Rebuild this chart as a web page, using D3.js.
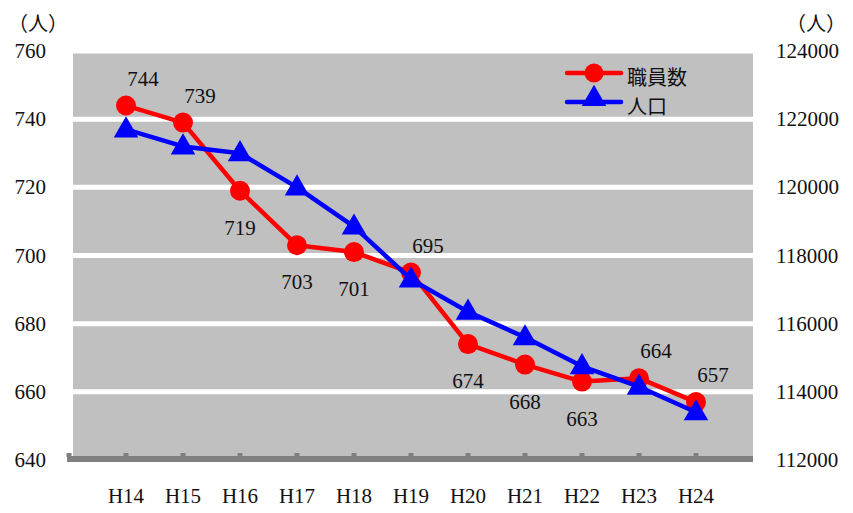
<!DOCTYPE html>
<html>
<head>
<meta charset="utf-8">
<script src="https://cdn.jsdelivr.net/npm/d3@7"></script>
<style>
  html, body { margin: 0; padding: 0; background: #fff; }
  svg { display: block; }
  .num { font-family: "Liberation Serif", "DejaVu Serif", serif; font-size: 21px; fill: #111; }
  .jp { font-family: "Noto Sans CJK JP", sans-serif; font-size: 20px; fill: #111; }
</style>
</head>
<body>
<svg id="chart" width="853" height="513"></svg>
<script>
// 年度
const years = ["H14", "H15", "H16", "H17", "H18", "H19", "H20", "H21", "H22", "H23", "H24"];
// 職員数（人）
const staff = [744, 739, 719, 703, 701, 695, 674, 668, 663, 664, 657];
// 人口（人）
const population = [121700, 121200, 121000, 120000, 118850, 117300, 116350, 115600, 114750, 114150, 113400];
// ラベル位置（上 / 下）
const labelPos = ["up", "up", "down", "down", "down", "up", "down", "down", "down", "up", "up"];
// 軸目盛
const leftTicks = [640, 660, 680, 700, 720, 740, 760];
const rightTicks = [112000, 114000, 116000, 118000, 120000, 122000, 124000];
const seriesNames = ["職員数", "人口"];

const svg = d3.select("#chart");
const plot = { left: 70, right: 753, top: 51, bottom: 460 };

const x = d3.scalePoint().domain(years).range([plot.left - 1, plot.right]).padding(1);
const yL = d3.scaleLinear().domain([640, 760]).range([plot.bottom, plot.top]);
const yR = d3.scaleLinear().domain([112000, 124000]).range([plot.bottom, plot.top]);

// 背景
svg.append("rect")
  .attr("x", plot.left + 3).attr("y", plot.top)
  .attr("width", plot.right - plot.left - 3).attr("height", plot.bottom - plot.top)
  .attr("fill", "#c0c0c0");

// 目盛線
svg.append("g").selectAll("line").data(leftTicks.slice(1)).join("line")
  .attr("x1", plot.left + 3).attr("x2", plot.right)
  .attr("y1", d => yL(d)).attr("y2", d => yL(d))
  .attr("stroke", "#fff").attr("stroke-width", 5);

// 横軸
const xAxisY = plot.bottom - 1;
svg.append("line")
  .attr("x1", plot.left - 3).attr("x2", plot.right)
  .attr("y1", xAxisY).attr("y2", xAxisY)
  .attr("stroke", "#808080").attr("stroke-width", 6);
const tickXs = [plot.left - 1].concat(years.map(d => x(d)));
svg.append("g").selectAll("rect").data(tickXs).join("rect")
  .attr("x", d => d - 2.5).attr("y", xAxisY - 6)
  .attr("width", 5).attr("height", 4)
  .attr("fill", "#808080");

svg.append("g").selectAll("text").data(years).join("text")
  .attr("class", "num")
  .attr("x", d => x(d)).attr("y", 496)
  .attr("text-anchor", "middle").attr("dominant-baseline", "central")
  .attr("font-size", 20)
  .text(d => d);

// 左軸ラベル
svg.append("g").selectAll("text").data(leftTicks).join("text")
  .attr("class", "num")
  .attr("x", 46).attr("y", d => yL(d))
  .attr("text-anchor", "end").attr("dominant-baseline", "central")
  .text(d => d);

// 右軸ラベル
svg.append("g").selectAll("text").data(rightTicks).join("text")
  .attr("class", "num")
  .attr("x", 776).attr("y", d => yR(d))
  .attr("text-anchor", "start").attr("dominant-baseline", "central")
  .text(d => d);

// 単位
svg.append("text").attr("class", "jp").attr("x", 38).attr("y", 22)
  .attr("text-anchor", "middle").attr("dominant-baseline", "central").text("（人）");
svg.append("text").attr("class", "jp").attr("x", 816).attr("y", 22)
  .attr("text-anchor", "middle").attr("dominant-baseline", "central").text("（人）");

const tri = d3.symbol().type(d3.symbolTriangle).size(260);

// 職員数
svg.append("path")
  .datum(staff)
  .attr("fill", "none").attr("stroke", "#ff0000").attr("stroke-width", 4.5)
  .attr("stroke-linejoin", "round")
  .attr("d", d3.line().x((d, i) => x(years[i])).y(d => yL(d)));
svg.append("g").selectAll("circle").data(staff).join("circle")
  .attr("cx", (d, i) => x(years[i])).attr("cy", d => yL(d))
  .attr("r", 10).attr("fill", "#ff0000");

// 人口（前面）
svg.append("path")
  .datum(population)
  .attr("fill", "none").attr("stroke", "#0000ff").attr("stroke-width", 4.5)
  .attr("stroke-linejoin", "round")
  .attr("d", d3.line().x((d, i) => x(years[i])).y(d => yR(d)));
svg.append("g").selectAll("path").data(population).join("path")
  .attr("d", tri)
  .attr("transform", (d, i) => `translate(${x(years[i])},${yR(d) + 1})`)
  .attr("fill", "#0000ff");

// データラベル
svg.append("g").selectAll("text").data(staff).join("text")
  .attr("class", "num")
  .attr("x", (d, i) => x(years[i]) + (labelPos[i] === "up" ? 17 : 0))
  .attr("y", (d, i) => yL(d) + (labelPos[i] === "up" ? -27 : 37))
  .attr("text-anchor", "middle").attr("dominant-baseline", "central")
  .attr("font-size", 20)
  .text(d => d);

// 凡例
const legend = svg.append("g");
const lg = [
  { name: seriesNames[0], color: "#ff0000", y: 73, mark: "circle" },
  { name: seriesNames[1], color: "#0000ff", y: 102, mark: "tri" }
];
lg.forEach(item => {
  legend.append("line")
    .attr("x1", 567).attr("x2", 621).attr("y1", item.y).attr("y2", item.y)
    .attr("stroke", item.color).attr("stroke-width", 4.5).attr("stroke-linecap", "round");
  if (item.mark === "circle") {
    legend.append("circle").attr("cx", 594).attr("cy", item.y).attr("r", 9.5).attr("fill", item.color);
  } else {
    legend.append("path").attr("d", tri).attr("transform", `translate(594,${item.y - 3})`).attr("fill", item.color);
  }
  legend.append("text").attr("class", "jp")
    .attr("x", 627).attr("y", item.y + 3)
    .attr("dominant-baseline", "central")
    .text(item.name);
});
</script>
</body>
</html>
